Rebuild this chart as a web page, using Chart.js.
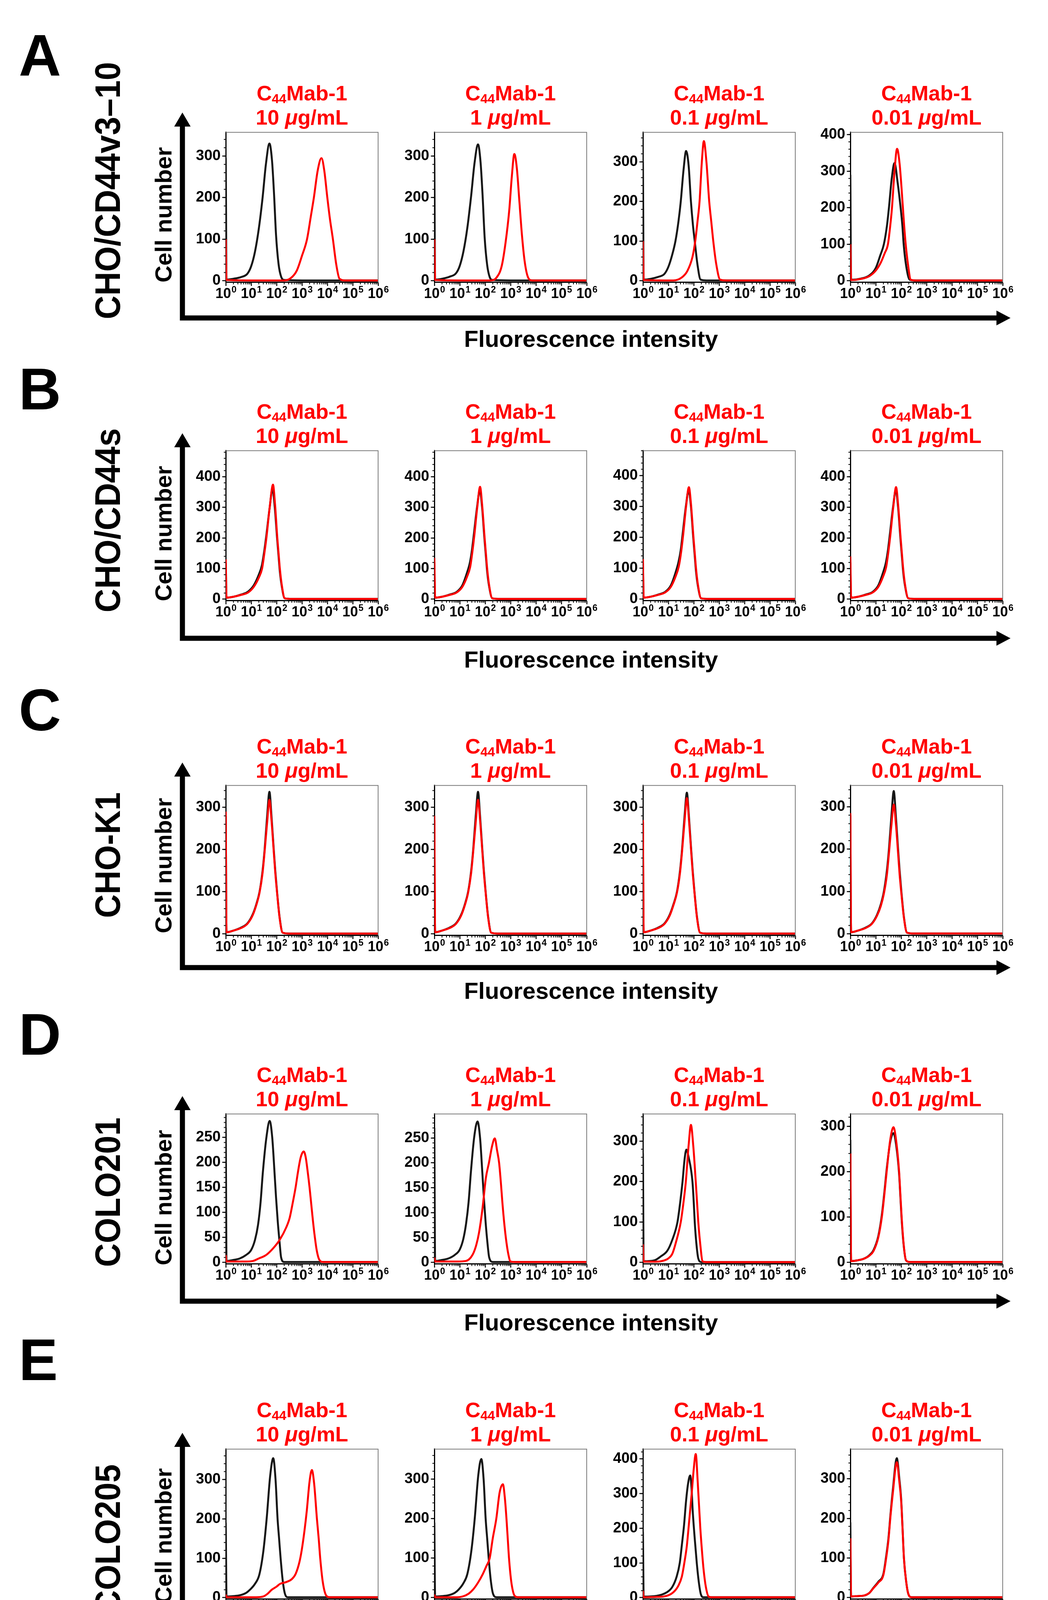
<!DOCTYPE html>
<html>
<head>
<meta charset="utf-8">
<script src="https://cdn.jsdelivr.net/npm/chart.js@4.4.1/dist/chart.umd.min.js"></script>
<style>
  html, body { margin: 0; padding: 0; background: #fff; }
  #page { position: relative; width: 2683px; height: 4327px; overflow: hidden;
          font-family: "Liberation Sans", Arial, Helvetica, sans-serif; font-weight: bold; color: #000; }
  .abs { position: absolute; white-space: nowrap; line-height: 1; }
  .letter { font-size: 150px; }
  .title { color: #ff0000; font-size: 54px; text-align: center; transform: translate(-50%, -50%); }
  .title .sub { font-size: 0.62em; position: relative; top: 0.22em; }
  .rowlabel { font-size: 84px; transform: translate(-50%, -50%) rotate(-90deg) scaleY(1.08); }
  .ylabel { font-size: 60px; transform: translate(-50%, -50%) rotate(-90deg); }
  .xlabel { font-size: 60px; transform: translate(-50%, -50%); }
  canvas { position: absolute; }
  svg { position: absolute; left: 0; top: 0; }
</style>
</head>
<body>
<div id="page"></div>
<script>
// ---- labels ----
const panelLetters = ['A', 'B', 'C', 'D', 'E'];
const cellLines = ['CHO/CD44v3–10', 'CHO/CD44s', 'CHO-K1', 'COLO201', 'COLO205'];
const concentrations = ['10', '1', '0.1', '0.01'];
const xTickValues = [1, 10, 100, 1000, 10000, 100000, 1000000];
const xTickLabels = [['10', '0'], ['10', '1'], ['10', '2'], ['10', '3'], ['10', '4'], ['10', '5'], ['10', '6']];

// ---- y axis ranges and ticks, per row (4 panels each) ----
const yMaxA = [357, 357, 374, 406];
const yMaxB = [485, 485, 480, 485];
const yMaxC = [352, 352, 352, 350];
const yMaxD = [297, 298, 367, 327];
const yMaxE = [377, 376, 428, 375];

const yTicksA = [[0, 100, 200, 300], [0, 100, 200, 300], [0, 100, 200, 300], [0, 100, 200, 300, 400]];
const yTicksB = [[0, 100, 200, 300, 400], [0, 100, 200, 300, 400], [0, 100, 200, 300, 400], [0, 100, 200, 300, 400]];
const yTicksC = [[0, 100, 200, 300], [0, 100, 200, 300], [0, 100, 200, 300], [0, 100, 200, 300]];
const yTicksD = [[0, 50, 100, 150, 200, 250], [0, 50, 100, 150, 200, 250], [0, 100, 200, 300], [0, 100, 200, 300]];
const yTicksE = [[0, 100, 200, 300], [0, 100, 200, 300], [0, 100, 200, 300, 400], [0, 100, 200, 300]];

// ---- histograms: [log10 fluorescence, cell number] ----
// control (black) and C44Mab-1 (red), 10 / 1 / 0.1 / 0.01 ug/mL
const ctrlA = [
  [[0,295],[0.03,3],[0.3,5],[0.6,9],[0.85,17],[1.0,35],[1.15,70],[1.3,125],[1.45,200],[1.58,280],[1.72,330],[1.82,290],[1.9,210],[1.98,110],[2.08,40],[2.18,10],[2.3,2],[3,1],[6,1]],
  [[0,295],[0.03,3],[0.3,5],[0.6,10],[0.85,18],[1.0,36],[1.15,72],[1.3,128],[1.45,205],[1.58,282],[1.72,328],[1.82,285],[1.9,205],[1.98,105],[2.08,38],[2.18,9],[2.3,2],[3,1],[6,1]],
  [[0,300],[0.03,3],[0.3,5],[0.6,10],[0.84,17],[1.0,35],[1.15,65],[1.28,100],[1.4,150],[1.49,200],[1.6,280],[1.7,327],[1.8,290],[1.89,200],[1.97,140],[2.04,100],[2.15,40],[2.27,3],[2.5,1],[6,1]],
  [[0,290],[0.03,3],[0.4,6],[0.75,15],[1.0,35],[1.18,70],[1.32,100],[1.44,150],[1.52,200],[1.63,280],[1.74,322],[1.86,270],[1.98,200],[2.05,150],[2.1,100],[2.2,40],[2.34,3],[2.6,1],[6,1]]
];
const mabA = [
  [[0,100],[0.03,2],[1,1],[2.3,1],[2.55,6],[2.8,25],[3.0,60],[3.2,100],[3.35,155],[3.47,200],[3.62,265],[3.77,295],[3.88,265],[4.0,200],[4.1,150],[4.22,100],[4.35,40],[4.48,5],[4.7,1],[6,1]],
  [[0,100],[0.03,2],[1,1],[2.2,1],[2.45,8],[2.65,35],[2.8,90],[2.95,170],[3.05,250],[3.15,305],[3.25,270],[3.35,190],[3.45,110],[3.55,50],[3.68,10],[3.85,1],[6,1]],
  [[0,100],[0.03,2],[1.2,1],[1.52,8],[1.75,25],[1.95,60],[2.06,100],[2.15,150],[2.23,200],[2.32,300],[2.4,352],[2.5,300],[2.61,200],[2.69,150],[2.77,100],[2.88,45],[3.04,3],[3.3,1],[6,1]],
  [[0,100],[0.03,2],[0.4,5],[0.75,13],[1.0,28],[1.2,50],[1.35,75],[1.48,100],[1.57,150],[1.64,200],[1.74,300],[1.84,361],[1.94,320],[2.07,200],[2.12,150],[2.18,100],[2.27,45],[2.38,3],[2.6,1],[6,1]]
];

const ctrlB = [
  [[0,120],[0.03,5],[0.3,8],[0.6,15],[0.88,25],[1.1,45],[1.3,80],[1.42,110],[1.52,160],[1.6,210],[1.73,300],[1.84,360],[1.93,300],[2.02,200],[2.08,140],[2.13,90],[2.2,45],[2.32,3],[2.6,1],[6,1]],
  [[0,120],[0.03,5],[0.3,8],[0.6,15],[0.88,24],[1.1,45],[1.28,85],[1.4,120],[1.48,160],[1.56,215],[1.68,300],[1.79,355],[1.88,300],[1.97,200],[2.03,140],[2.08,90],[2.15,45],[2.28,3],[2.6,1],[6,1]],
  [[0,115],[0.03,5],[0.3,8],[0.6,15],[0.88,24],[1.1,45],[1.28,85],[1.4,120],[1.49,160],[1.57,215],[1.69,300],[1.8,352],[1.89,300],[1.98,200],[2.04,140],[2.09,90],[2.16,45],[2.29,3],[2.6,1],[6,1]],
  [[0,120],[0.03,5],[0.3,8],[0.6,15],[0.88,24],[1.1,45],[1.28,85],[1.4,120],[1.48,160],[1.56,215],[1.68,300],[1.79,356],[1.88,300],[1.97,200],[2.03,140],[2.08,90],[2.15,45],[2.28,3],[2.6,1],[6,1]]
];
const mabB = [
  [[0,130],[0.03,5],[0.3,8],[0.6,14],[0.88,22],[1.1,40],[1.3,70],[1.43,100],[1.52,150],[1.6,200],[1.73,300],[1.86,374],[1.94,310],[2.03,200],[2.08,150],[2.13,100],[2.2,50],[2.32,3],[2.6,1],[6,1]],
  [[0,135],[0.03,5],[0.3,8],[0.6,14],[0.88,22],[1.1,40],[1.28,72],[1.41,105],[1.49,150],[1.57,205],[1.69,300],[1.8,367],[1.88,310],[1.98,200],[2.03,150],[2.08,100],[2.15,50],[2.28,3],[2.6,1],[6,1]],
  [[0,130],[0.03,5],[0.3,8],[0.6,14],[0.88,22],[1.1,40],[1.28,72],[1.41,105],[1.5,150],[1.58,205],[1.7,300],[1.81,362],[1.89,310],[1.99,200],[2.04,150],[2.09,100],[2.16,50],[2.29,3],[2.6,1],[6,1]],
  [[0,140],[0.03,5],[0.3,8],[0.6,14],[0.88,22],[1.1,40],[1.28,72],[1.41,105],[1.49,150],[1.57,205],[1.69,300],[1.8,366],[1.88,310],[1.98,200],[2.03,150],[2.08,100],[2.15,50],[2.28,3],[2.6,1],[6,1]]
];

const ctrlC = [
  [[0,280],[0.03,4],[0.3,8],[0.6,15],[0.85,25],[1.05,45],[1.2,70],[1.33,100],[1.45,150],[1.53,200],[1.63,280],[1.72,337],[1.8,280],[1.89,200],[1.95,150],[2.02,100],[2.12,40],[2.24,3],[2.5,1],[6,1]],
  [[0,270],[0.03,4],[0.3,8],[0.6,15],[0.85,25],[1.05,45],[1.2,70],[1.33,100],[1.45,150],[1.53,200],[1.63,280],[1.72,337],[1.8,280],[1.89,200],[1.95,150],[2.02,100],[2.12,40],[2.24,3],[2.5,1],[6,1]],
  [[0,265],[0.03,4],[0.3,8],[0.6,15],[0.85,25],[1.05,45],[1.2,70],[1.34,100],[1.46,150],[1.54,200],[1.64,280],[1.73,335],[1.81,280],[1.9,200],[1.96,150],[2.03,100],[2.13,40],[2.25,3],[2.5,1],[6,1]],
  [[0,280],[0.03,4],[0.3,8],[0.6,15],[0.85,25],[1.05,45],[1.2,70],[1.32,100],[1.44,150],[1.52,200],[1.62,280],[1.71,337],[1.79,280],[1.88,200],[1.94,150],[2.01,100],[2.11,40],[2.23,3],[2.5,1],[6,1]]
];
const mabC = [
  [[0,290],[0.03,4],[0.3,8],[0.6,14],[0.85,24],[1.05,43],[1.2,68],[1.33,98],[1.45,145],[1.53,195],[1.63,265],[1.72,318],[1.8,270],[1.89,195],[1.95,145],[2.02,98],[2.12,38],[2.24,3],[2.5,1],[6,1]],
  [[0,280],[0.03,4],[0.3,8],[0.6,14],[0.85,24],[1.05,43],[1.2,68],[1.33,98],[1.45,145],[1.53,195],[1.63,265],[1.72,318],[1.8,270],[1.89,195],[1.95,145],[2.02,98],[2.12,38],[2.24,3],[2.5,1],[6,1]],
  [[0,270],[0.03,4],[0.3,8],[0.6,14],[0.85,24],[1.05,43],[1.2,68],[1.34,98],[1.46,145],[1.54,195],[1.64,268],[1.73,322],[1.81,272],[1.9,195],[1.96,145],[2.03,98],[2.13,38],[2.25,3],[2.5,1],[6,1]],
  [[0,285],[0.03,4],[0.3,8],[0.6,14],[0.85,24],[1.05,43],[1.2,66],[1.32,95],[1.44,140],[1.52,190],[1.62,258],[1.71,305],[1.79,262],[1.88,190],[1.94,140],[2.01,95],[2.11,38],[2.23,3],[2.5,1],[6,1]]
];

const ctrlD = [
  [[0,270],[0.03,3],[0.3,5],[0.55,8],[0.8,15],[1.0,25],[1.15,45],[1.27,75],[1.37,120],[1.46,180],[1.6,250],[1.73,283],[1.83,250],[1.92,180],[1.98,130],[2.05,80],[2.12,40],[2.18,10],[2.3,1],[6,1]],
  [[0,270],[0.03,3],[0.3,5],[0.55,8],[0.8,15],[1.0,26],[1.14,47],[1.25,78],[1.35,122],[1.44,182],[1.57,252],[1.7,283],[1.8,250],[1.89,180],[1.95,130],[2.02,80],[2.09,40],[2.16,10],[2.3,1],[6,1]],
  [[0,270],[0.03,3],[0.44,5],[0.7,15],[0.96,29],[1.15,55],[1.36,100],[1.47,150],[1.56,200],[1.64,255],[1.71,279],[1.8,260],[1.95,200],[2.0,150],[2.04,100],[2.1,50],[2.18,10],[2.3,1],[6,1]],
  [[0,270],[0.03,3],[0.3,5],[0.52,8],[0.75,16],[0.91,27],[1.1,58],[1.24,105],[1.34,155],[1.43,205],[1.57,265],[1.7,285],[1.8,260],[1.92,195],[1.97,145],[2.02,95],[2.1,38],[2.19,5],[2.35,1],[6,1]]
];
const mabD = [
  [[0,15],[0.03,2],[0.8,2],[1.07,3],[1.3,8],[1.59,15],[1.86,28],[2.12,45],[2.38,70],[2.52,90],[2.64,120],[2.75,150],[2.84,180],[2.95,210],[3.07,222],[3.15,210],[3.23,180],[3.3,150],[3.36,120],[3.43,85],[3.49,58],[3.58,25],[3.69,5],[3.85,1],[6,1]],
  [[0,10],[0.03,2],[0.9,2],[1.24,3],[1.5,15],[1.65,35],[1.76,60],[1.9,110],[2.03,170],[2.15,200],[2.28,235],[2.38,249],[2.47,225],[2.55,200],[2.62,160],[2.68,120],[2.76,75],[2.84,40],[2.92,15],[3.0,2],[3.2,1],[6,1]],
  [[0,45],[0.03,2],[0.5,2],[0.83,5],[1.0,10],[1.16,22],[1.3,50],[1.49,100],[1.6,150],[1.69,200],[1.8,290],[1.89,340],[1.98,290],[2.08,200],[2.13,150],[2.18,100],[2.25,50],[2.35,3],[2.5,1],[6,1]],
  [[0,240],[0.03,3],[0.3,5],[0.52,8],[0.75,15],[0.91,25],[1.1,55],[1.24,100],[1.34,150],[1.43,200],[1.57,270],[1.7,298],[1.8,270],[1.92,200],[1.97,150],[2.02,100],[2.1,40],[2.19,5],[2.35,1],[6,1]]
];

const ctrlE = [
  [[0,190],[0.03,3],[0.3,4],[0.55,6],[0.8,12],[0.95,20],[1.15,35],[1.32,58],[1.48,118],[1.61,200],[1.75,310],[1.87,354],[1.96,300],[2.04,200],[2.1,150],[2.16,100],[2.24,45],[2.33,10],[2.45,1],[6,1]],
  [[0,190],[0.03,3],[0.3,4],[0.55,6],[0.8,12],[0.95,20],[1.14,36],[1.3,60],[1.46,120],[1.59,200],[1.73,310],[1.85,351],[1.94,300],[2.02,200],[2.08,150],[2.14,100],[2.22,45],[2.31,10],[2.45,1],[6,1]],
  [[0,190],[0.03,3],[0.53,5],[0.93,15],[1.15,30],[1.33,61],[1.45,100],[1.53,150],[1.62,210],[1.7,280],[1.78,330],[1.86,352],[1.91,320],[1.96,250],[2.04,170],[2.12,100],[2.2,45],[2.28,10],[2.39,1],[6,1]],
  [[0,190],[0.03,3],[0.3,4],[0.52,5],[0.75,12],[0.91,25],[1.1,40],[1.3,60],[1.4,100],[1.5,150],[1.58,210],[1.67,270],[1.83,352],[1.93,300],[2.0,250],[2.06,170],[2.11,100],[2.2,40],[2.28,10],[2.41,1],[6,1]]
];
const mabE = [
  [[0,8],[0.03,1],[1.2,1],[1.48,3],[1.65,10],[1.81,20],[2.0,28],[2.14,35],[2.4,40],[2.6,47],[2.75,60],[2.9,90],[2.99,120],[3.1,170],[3.19,220],[3.3,295],[3.39,324],[3.48,290],[3.59,200],[3.66,150],[3.72,100],[3.82,40],[3.96,5],[4.1,1],[6,1]],
  [[0,8],[0.03,1],[0.9,1],[1.12,3],[1.35,10],[1.52,20],[1.72,38],[1.91,60],[2.05,80],[2.18,100],[2.3,150],[2.44,200],[2.57,266],[2.7,287],[2.78,250],[2.84,200],[2.89,150],[2.94,100],[3.02,45],[3.1,15],[3.16,5],[3.3,1],[6,1]],
  [[0,20],[0.03,1],[0.5,2],[0.8,3],[1.19,15],[1.4,35],[1.53,60],[1.63,100],[1.73,150],[1.82,220],[1.92,300],[2.0,370],[2.08,414],[2.16,330],[2.26,200],[2.33,130],[2.39,80],[2.48,30],[2.59,3],[2.75,1],[6,1]],
  [[0,150],[0.03,3],[0.3,4],[0.52,5],[0.75,12],[0.91,24],[1.1,38],[1.3,57],[1.4,95],[1.5,145],[1.58,205],[1.67,262],[1.83,342],[1.93,292],[2.0,245],[2.06,168],[2.11,100],[2.2,40],[2.28,10],[2.41,1],[6,1]]
];

// ---- page layout (pixels) ----
const BOX_LEFT = [578, 1112, 1646, 2177];
const BOX_W = 390, BOX_H = 386;
const ROW_TOP = [336, 1151, 2008, 2849, 3707];
const LETTER_TOP = [86, 941, 1763, 2593, 3426];
const ROWLABEL_Y = [488, 1332, 2189, 3052, 3940];
const CELLNUM_Y = [550, 1366, 2216, 3066, 3932];
const ARROW_TIP_Y = [288, 1109, 1952, 2806, 3668];
const ARROW_X_Y = [814, 1634, 2477, 3331, 4194];
const FLUO_Y = [868, 1689, 2537, 3386, 4252];
const AXIS_X = 467, ARROW_END_X = 2587;
const AXW = 100, PADT = 24, PADR = 44, XAH = 66;

const rows = [
  { ctrl: ctrlA, mab: mabA, yMax: yMaxA, yTicks: yTicksA },
  { ctrl: ctrlB, mab: mabB, yMax: yMaxB, yTicks: yTicksB },
  { ctrl: ctrlC, mab: mabC, yMax: yMaxC, yTicks: yTicksC },
  { ctrl: ctrlD, mab: mabD, yMax: yMaxD, yTicks: yTicksD },
  { ctrl: ctrlE, mab: mabE, yMax: yMaxE, yTicks: yTicksE }
];

const FONT = '"Liberation Sans", Arial, Helvetica, sans-serif';
const page = document.getElementById('page');
Chart.defaults.font.family = FONT;
Chart.defaults.font.weight = 'bold';
Chart.defaults.color = '#000';

function addText(cls, html, left, top) {
  const d = document.createElement('div');
  d.className = 'abs ' + cls;
  d.innerHTML = html;
  d.style.left = left + 'px';
  d.style.top = top + 'px';
  page.appendChild(d);
  return d;
}

// box edge, minor ticks and 10^n tick labels
const framePlugin = {
  id: 'frame',
  afterDraw(chart) {
    const { ctx, chartArea: a, scales: { x, y } } = chart;
    ctx.save();
    ctx.strokeStyle = '#000';
    ctx.lineWidth = 2;
    for (let d = 1; d < 1e6; d *= 10) {
      for (let k = 2; k < 10; k++) {
        const px = x.getPixelForValue(k * d);
        ctx.beginPath(); ctx.moveTo(px, a.bottom); ctx.lineTo(px, a.bottom + 6); ctx.stroke();
      }
    }
    const step = (y.ticks[1].value - y.ticks[0].value) / 5;
    for (let v = step; v <= y.max; v += step) {
      const py = y.getPixelForValue(v);
      ctx.beginPath(); ctx.moveTo(a.left, py); ctx.lineTo(a.left - 5, py); ctx.stroke();
    }
    ctx.strokeStyle = '#7a7a7a';
    ctx.beginPath();
    ctx.moveTo(a.left, a.top); ctx.lineTo(a.right, a.top); ctx.lineTo(a.right, a.bottom);
    ctx.stroke();

    ctx.fillStyle = '#000';
    ctx.textBaseline = 'alphabetic';
    const baseY = a.bottom + 41;
    xTickValues.forEach((v, i) => {
      const [base, exp] = xTickLabels[i];
      ctx.font = 'bold 36px ' + FONT;
      const w1 = ctx.measureText(base).width;
      ctx.font = 'bold 23px ' + FONT;
      const w2 = ctx.measureText(exp).width;
      const x0 = x.getPixelForValue(v) - (w1 + w2) / 2;
      ctx.font = 'bold 36px ' + FONT;
      ctx.fillText(base, x0, baseY);
      ctx.font = 'bold 23px ' + FONT;
      ctx.fillText(exp, x0 + w1 + 1, baseY - 14);
    });
    ctx.restore();
  }
};

function toPoints(arr) {
  return arr.map(p => ({ x: Math.pow(10, p[0]), y: p[1] }));
}

function makePanel(r, c) {
  const row = rows[r];
  const top = ROW_TOP[r], left = BOX_LEFT[c];
  const cv = document.createElement('canvas');
  cv.width = AXW + BOX_W + PADR;
  cv.height = PADT + BOX_H + XAH;
  cv.style.left = (left - AXW) + 'px';
  cv.style.top = (top - PADT) + 'px';
  page.appendChild(cv);

  const yMax = row.yMax[c];
  const yTicks = row.yTicks[c];
  new Chart(cv, {
    type: 'line',
    data: {
      datasets: [
        { label: 'C44Mab-1', data: toPoints(row.mab[c]), borderColor: '#ff0000', order: 0 },
        { label: 'Control', data: toPoints(row.ctrl[c]), borderColor: '#161616', order: 1 }
      ]
    },
    options: {
      responsive: false,
      animation: false,
      devicePixelRatio: 1,
      layout: { autoPadding: false, padding: { top: PADT, right: PADR, left: 0, bottom: 0 } },
      elements: {
        point: { radius: 0 },
        line: { borderWidth: 5, tension: 0.3, cubicInterpolationMode: 'monotone', fill: false }
      },
      plugins: { legend: { display: false }, tooltip: { enabled: false } },
      scales: {
        x: {
          type: 'logarithmic', min: 1, max: 1e6,
          afterBuildTicks: s => { s.ticks = xTickValues.map(v => ({ value: v, major: true })); },
          afterFit: s => { s.height = XAH; },
          ticks: { display: false },
          grid: { drawOnChartArea: false, drawTicks: true, tickLength: 10, tickWidth: 2.5, tickColor: '#000' },
          border: { display: true, color: '#000', width: 3 }
        },
        y: {
          min: -yMax * 0.008, max: yMax,
          afterBuildTicks: s => { s.ticks = yTicks.map(v => ({ value: v })); },
          afterFit: s => { s.width = AXW; },
          ticks: { padding: 4, font: { size: 38, weight: 'bold' } },
          grid: { drawOnChartArea: false, drawTicks: true, tickLength: 9, tickWidth: 2.5, tickColor: '#000' },
          border: { display: true, color: '#000', width: 3 }
        }
      }
    },
    plugins: [framePlugin]
  });

  // panel title
  const cx = left + BOX_W / 2;
  addText('title', 'C<span class="sub">44</span>Mab-1', cx, top - 98);
  addText('title', concentrations[c] + ' <i>μ</i>g/mL', cx, top - 36);
}

// arrows
const svgNS = 'http://www.w3.org/2000/svg';
const svg = document.createElementNS(svgNS, 'svg');
svg.setAttribute('width', 2683);
svg.setAttribute('height', 4327);
page.appendChild(svg);
function svgEl(tag, attrs) {
  const e = document.createElementNS(svgNS, tag);
  for (const k in attrs) e.setAttribute(k, attrs[k]);
  svg.appendChild(e);
}

panelLetters.forEach((L, r) => {
  addText('letter', L, 48, LETTER_TOP[r] - 20);
  addText('rowlabel', cellLines[r], 276, ROWLABEL_Y[r]);
  addText('ylabel', 'Cell number', 419, CELLNUM_Y[r]);
  addText('xlabel', 'Fluorescence intensity', 1513, FLUO_Y[r]);

  const tip = ARROW_TIP_Y[r], hy = ARROW_X_Y[r];
  svgEl('path', { d: `M${AXIS_X} ${tip + 30} L${AXIS_X} ${hy} L${ARROW_END_X - 30} ${hy}`,
    stroke: '#000', 'stroke-width': 13, fill: 'none', 'stroke-linejoin': 'miter', 'stroke-linecap': 'square' });
  svgEl('polygon', { points: `${AXIS_X},${tip} ${AXIS_X - 21},${tip + 36} ${AXIS_X + 21},${tip + 36}`, fill: '#000' });
  svgEl('polygon', { points: `${ARROW_END_X},${hy} ${ARROW_END_X - 36},${hy - 19} ${ARROW_END_X - 36},${hy + 19}`, fill: '#000' });

  for (let c = 0; c < 4; c++) makePanel(r, c);
});
</script>
</body>
</html>
